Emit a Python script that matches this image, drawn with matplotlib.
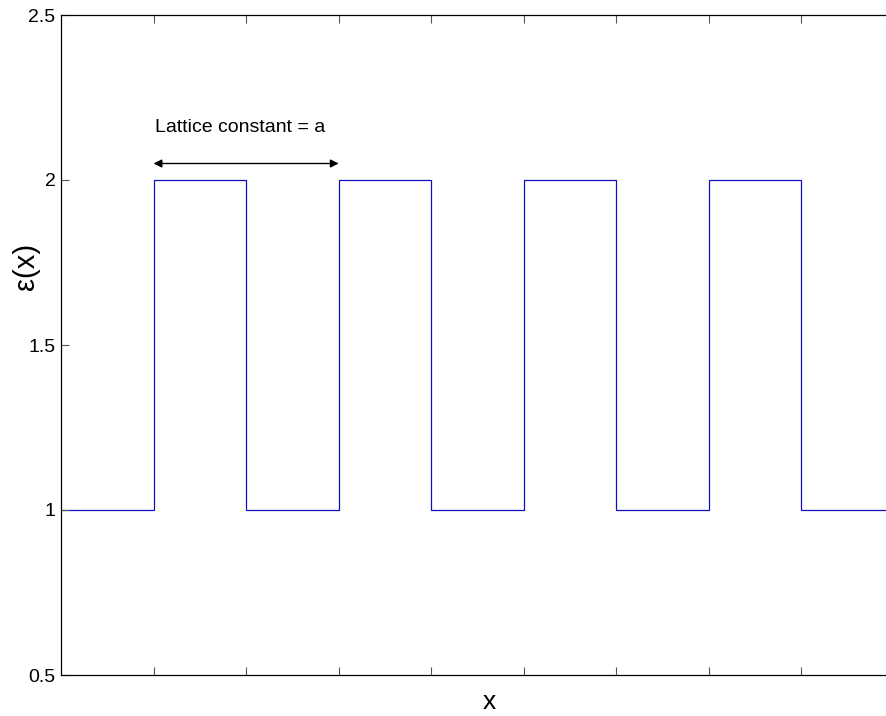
import numpy as np
import matplotlib
matplotlib.use('Agg')
import matplotlib.pyplot as plt

plt.rcParams['font.family'] = ['Liberation Sans', 'DejaVu Sans']

# perfil de la permitividad (unidades de a)
x_edges = [0.0, 0.5, 1.0, 1.5, 2.0, 2.5, 3.0, 3.5, 4.0, 4.5]
eps_vals = [1, 2, 1, 2, 1, 2, 1, 2, 1]
x_ticks = [0.5, 1.0, 1.5, 2.0, 2.5, 3.0, 3.5, 4.0]
y_ticks = [0.5, 1, 1.5, 2, 2.5]
y_tick_labels = ['0.5', '1', '1.5', '2', '2.5']

fig = plt.figure(figsize=(8.86, 7.16), dpi=100)
# el eje derecho queda recortado como en la imagen original
ax = fig.add_axes([61/886, 1-675/716, (894-61)/886, 660/716])

ax.stairs(eps_vals, x_edges, color='#1010c0', linewidth=0.9, baseline=None)

ax.annotate('', xy=(1.5, 2.05), xytext=(0.5, 2.05),
            arrowprops=dict(arrowstyle='<|-|>', color='black', lw=1.0,
                            mutation_scale=12, shrinkA=0, shrinkB=0))
ax.text(0.51, 2.16, 'Lattice constant = a', fontsize=14, ha='left', va='center')

ax.set_xlim(0, 4.5)
ax.set_ylim(0.5, 2.5)
ax.set_xticks(x_ticks)
ax.set_xticklabels([])
ax.set_yticks(y_ticks)
ax.set_yticklabels(y_tick_labels, fontsize=14)
ax.tick_params(direction='in', length=6, width=0.8, top=True, right=True, pad=4,
               color='#555555')
for s in ax.spines.values():
    s.set_linewidth(0.9)

ax.set_xlabel('x', fontsize=19)
ax.xaxis.set_label_coords((489-61)/833, -15/660)
ax.set_ylabel('ε(x)', fontsize=21)
ax.yaxis.set_label_coords((40-61)/833, (675-266)/660)

fig.savefig('out.png', dpi=100)
plt.close(fig)
